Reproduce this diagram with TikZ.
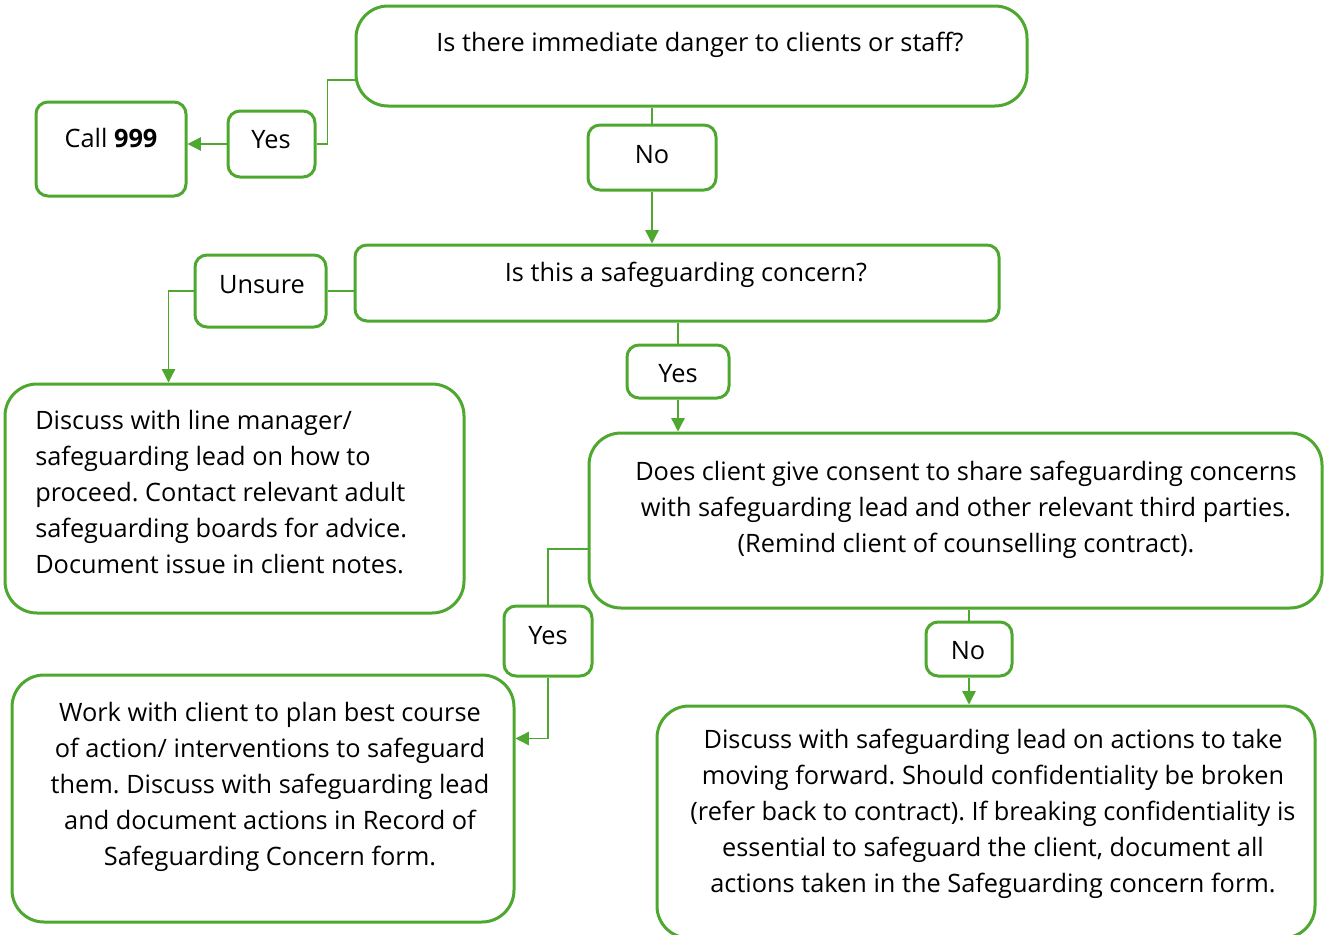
\documentclass[tikz,border=0pt]{standalone}
\usepackage{fontspec}
\setmainfont{Open Sans}
\usetikzlibrary{arrows.meta,fit}
\definecolor{flowgreen}{RGB}{78,167,46}
\frenchspacing

\tikzset{
  bigbox/.style={draw=flowgreen, line width=2.25pt, rounded corners=24pt, inner sep=0pt},
  smallbox/.style={draw=flowgreen, line width=2.25pt, rounded corners=9pt, inner sep=0pt},
  flowtext/.style={inner sep=0pt, font=\fontsize{19}{27}\selectfont},
  link/.style={draw=flowgreen, line width=1pt},
  linkarrow/.style={link, -{Triangle[length=10pt,width=10pt]}}
}

\begin{document}
\begin{tikzpicture}[x=0.75pt,y=0.75pt,yscale=-1,xscale=1]
\useasboundingbox (0,0) rectangle (1325,935);

%Shape: boxes
\node [bigbox, fit={(356,6) (1027,106)}] (danger) {};
\node [smallbox, fit={(36,102) (186,196)}] (call) {};
\node [smallbox, fit={(228,111) (315,177)}] (yesA) {};
\node [smallbox, fit={(588,125) (716,190)}] (noA) {};
\node [smallbox, fit={(355,245) (999,321)}] (concern) {};
\node [smallbox, fit={(195,255) (326,327)}] (unsure) {};
\node [bigbox, fit={(5,384) (464,613)}] (discuss) {};
\node [smallbox, fit={(627,345) (729,398)}] (yesB) {};
\node [bigbox, fit={(589,433) (1322,608)}] (consent) {};
\node [smallbox, fit={(504,606) (592,676)}] (yesC) {};
\node [smallbox, fit={(926,622) (1012,676)}] (noB) {};
\node [bigbox, fit={(12,675) (514,922)}] (plan) {};
\node [bigbox, fit={(657,706) (1315,938)}] (lead) {};

% Text Node
\node [flowtext] (dangerT) at (700,45) {Is there immediate danger to clients or staff?};
\node [flowtext] (callT) at (111,138) {Call \textbf{999}};
\node [flowtext] (yesAT) at (271,140) {Yes};
\node [flowtext] (noAT) at (652,155) {No};
\node [flowtext] (concernT) at (686,275) {Is this a safeguarding concern?};
\node [flowtext] (unsureT) at (262,285) {Unsure};
\node [flowtext, anchor=west, align=left] (discussT) at (35,492) {Discuss with line manager/\\safeguarding lead on how to\\proceed. Contact relevant adult\\safeguarding boards for advice.\\Document issue in client notes.};
\node [flowtext] (yesBT) at (678,374) {Yes};
\node [flowtext, align=center] (consentT) at (966,510) {Does client give consent to share safeguarding concerns\\with safeguarding lead and other relevant third parties.\\(Remind client of counselling contract).};
\node [flowtext] (yesCT) at (548,636) {Yes};
\node [flowtext] (noBT) at (968,651) {No};
\node [flowtext, align=center] (planT) at (270,787) {Work with client to plan best course\\of action/ interventions to safeguard\\them. Discuss with safeguarding lead\\and document actions in Record of\\Safeguarding Concern form.};
\node [flowtext, align=center] (leadT) at (993,814) {Discuss with safeguarding lead on actions to take\\moving forward. Should confidentiality be broken\\(refer back to contract). If breaking confidentiality is\\essential to safeguard the client, document all\\actions taken in the Safeguarding concern form.};

%Straight Lines
\draw [link] ([yshift=18pt]danger.west) -- ++(-27,0) |- (yesA.east);
\draw [linkarrow] (yesA.west) -- (yesA.west -| call.east);
\draw [link] (noA.north |- danger.south) -- (noA.north);
\draw [linkarrow] (noA.south) -- (noA.south |- concern.north);
\draw [link] (unsure.east) -- (unsure.east -| concern.west);
\draw [linkarrow] (unsure.west) -- ++(-25,0) coordinate (bend) -- (bend |- discuss.north);
\draw [link] (yesB.north |- concern.south) -- (yesB.north);
\draw [linkarrow] (yesB.south) -- (yesB.south |- consent.north);
\draw [link] ([yshift=21.4pt]consent.west) -| (yesC.north);
\draw [linkarrow] (yesC.south) |- ([yshift=-45pt]plan.east);
\draw [link] (noB.north |- consent.south) -- (noB.north);
\draw [linkarrow] (noB.south) -- (noB.south |- lead.north);

\end{tikzpicture}
\end{document}
